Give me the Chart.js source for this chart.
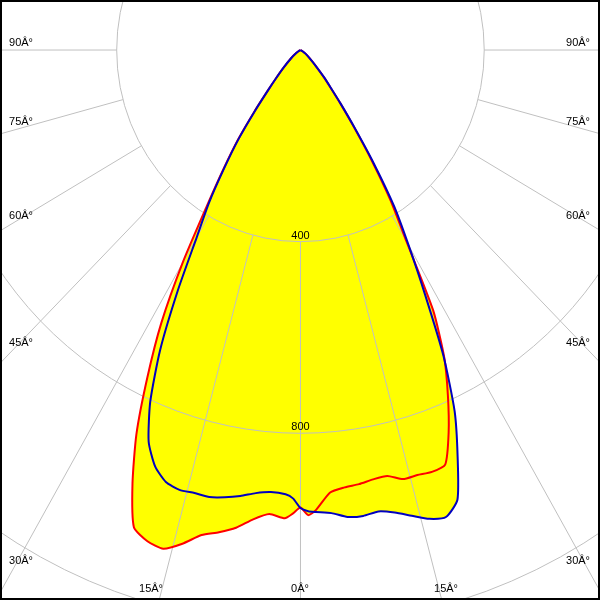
<!DOCTYPE html>
<html lang="en">
<head>
<meta charset="UTF-8" />
<title>Polar light distribution</title>
<script src="https://cdn.jsdelivr.net/npm/chart.js@4.4.0/dist/chart.umd.min.js"></script>
<style>
  * { margin: 0; padding: 0; box-sizing: border-box; }
  body { width: 600px; height: 600px; background: #fff; overflow: hidden; }
  canvas { display: block; }
</style>
</head>
<body>
<canvas id="polar" width="600" height="600"></canvas>
<script>
// gamma angles (deg from nadir) and intensities for each half plane
const angles = [0, 1, 2, 4, 6, 8, 10, 12, 14, 16, 18, 20, 22, 24, 26, 28, 30, 32, 34, 36, 38, 40, 42, 45, 50, 55, 60, 90, 180];
const c0   = [955, 971, 961, 926, 918, 915, 910, 909, 923, 923, 926, 921, 861, 789, 714, 615, 462, 370, 275, 195, 140, 100, 76, 48, 24, 14, 6, 0, 0];
const c180 = [955, 968, 978, 971, 985, 1007, 1022, 1035, 1062, 1083, 1078, 1060, 976, 878, 760, 645, 513, 386, 300, 232, 162, 110, 80, 52, 26, 12, 5, 0, 0];
const c90  = [956, 963, 965, 969, 980, 982, 978, 987, 1002, 1018, 1025, 999, 913, 825, 710, 577, 471, 385, 285, 200, 142, 102, 77, 48, 24, 14, 6, 0, 0];
const c270 = [956, 936, 928, 925, 930, 940, 948, 954, 953, 955, 948, 925, 882, 804, 697, 569, 452, 375, 295, 228, 160, 110, 80, 52, 26, 12, 5, 0, 0];

const rings = [400, 800, 1200];
const ringLabels = ["400", "800"];
const spokeStep = 15;
const angleLabels = ["90Â°", "75Â°", "60Â°", "45Â°", "30Â°", "15Â°", "0Â°", "15Â°", "30Â°", "45Â°", "60Â°", "75Â°", "90Â°"];

// left half plane goes to negative angles, right half to positive
function toXY(left, right) {
  const pts = [];
  for (let i = angles.length - 1; i >= 0; i--) {
    const a = -angles[i] * Math.PI / 180;
    pts.push({ x: left[i] * Math.sin(a), y: -left[i] * Math.cos(a) });
  }
  for (let i = 1; i < angles.length; i++) {
    const a = angles[i] * Math.PI / 180;
    pts.push({ x: right[i] * Math.sin(a), y: -right[i] * Math.cos(a) });
  }
  return pts;
}

const redPts = toXY(c180, c0);
const bluePts = toXY(c270, c90);

const labelSpots = [[21, 42], [21, 121], [21, 215], [21, 342], [21, 560], [151, 588], [300, 588],
  [446, 588], [578, 560], [578, 342], [578, 215], [578, 121], [578, 42]];

const polarGrid = {
  id: "polarGrid",
  beforeDatasetsDraw(chart) {
    const { ctx, scales: { x, y } } = chart;
    const cx = x.getPixelForValue(0), cy = y.getPixelForValue(0);
    ctx.save();
    ctx.strokeStyle = "#c0c0c0";
    ctx.lineWidth = 1;
    rings.forEach(r => {
      const rx = x.getPixelForValue(r) - cx;
      const ry = y.getPixelForValue(-r) - cy;
      ctx.beginPath();
      ctx.ellipse(cx, cy, rx, ry, 0, 0, Math.PI * 2);
      ctx.stroke();
    });
    for (let a = 0; a < 360; a += spokeStep) {
      const t = a * Math.PI / 180, s = Math.sin(t), c = Math.cos(t);
      ctx.beginPath();
      ctx.moveTo(x.getPixelForValue(rings[0] * s), y.getPixelForValue(-rings[0] * c));
      ctx.lineTo(x.getPixelForValue(3000 * s), y.getPixelForValue(-3000 * c));
      ctx.stroke();
    }
    ctx.fillStyle = "#000";
    ctx.font = "11px 'Liberation Sans', Arial, sans-serif";
    ctx.textAlign = "center";
    ctx.textBaseline = "alphabetic";
    ringLabels.forEach((t, i) => {
      ctx.fillText(t, cx, y.getPixelForValue(-rings[i]) - 3);
    });
    angleLabels.forEach((t, i) => {
      ctx.fillText(t, labelSpots[i][0], labelSpots[i][1] + 4);
    });
    ctx.restore();
  },
  afterDraw(chart) {
    const ctx = chart.ctx;
    ctx.save();
    ctx.strokeStyle = "#000";
    ctx.lineWidth = 2;
    ctx.strokeRect(1, 1, 598, 598);
    ctx.restore();
  }
};

new Chart(document.getElementById("polar"), {
  type: "line",
  data: {
    datasets: [
      { label: "C90-C270", data: bluePts, borderColor: "#0000c0", borderWidth: 2, fill: false, tension: 0.2, pointRadius: 0 },
      { label: "C0-C180", data: redPts, borderColor: "#ff0000", borderWidth: 2, fill: false, tension: 0.2, pointRadius: 0 },
      { data: bluePts, borderColor: "rgba(0,0,0,0)", backgroundColor: "#ffff00", fill: "shape", tension: 0.2, pointRadius: 0 },
      { data: redPts, borderColor: "rgba(0,0,0,0)", backgroundColor: "#ffff00", fill: "shape", tension: 0.2, pointRadius: 0 }
    ]
  },
  options: {
    responsive: false,
    animation: false,
    layout: { padding: 0 },
    scales: {
      x: { type: "linear", min: -654, max: 652, display: false },
      y: { type: "linear", min: -1148, max: 104.4, display: false }
    },
    plugins: {
      legend: { display: false },
      tooltip: { enabled: false },
      filler: { drawTime: "beforeDraw" }
    }
  },
  plugins: [polarGrid]
});
</script>
</body>
</html>
